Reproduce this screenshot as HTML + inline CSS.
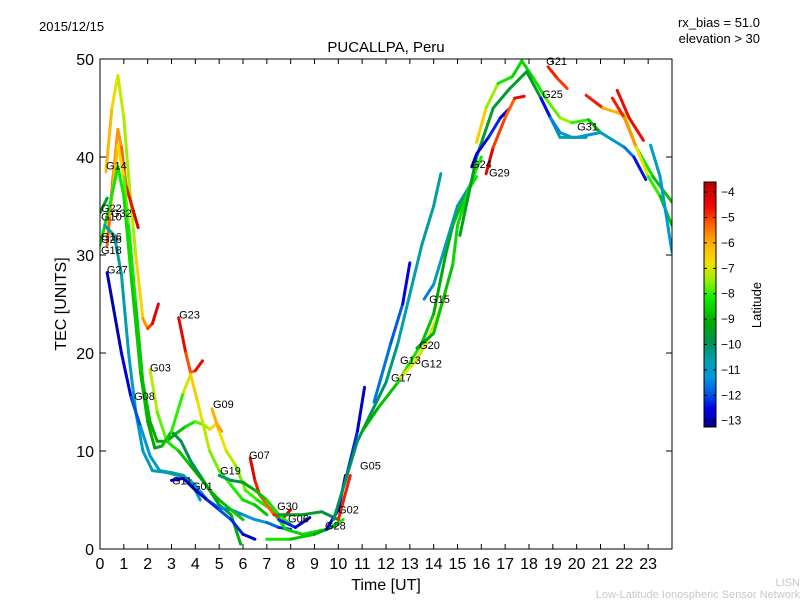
<!DOCTYPE html>
<html><head><meta charset="utf-8"><style>
body{margin:0;background:#fff;}
svg{display:block;font-family:"Liberation Sans","DejaVu Sans",sans-serif;}
</style></head><body>
<svg id="chart" width="800" height="600" viewBox="0 0 800 600">
<defs>
<clipPath id="plotclip"><rect x="100" y="59" width="572" height="490"/></clipPath>
<linearGradient id="jetgrad" x1="0" y1="1" x2="0" y2="0"></linearGradient>
</defs>
<rect width="800" height="600" fill="#fff"/>
<text x="39" y="31" font-size="13">2015/12/15</text>
<text x="760" y="27" font-size="13" text-anchor="end">rx_bias = 51.0</text>
<text x="760" y="43" font-size="13" text-anchor="end">elevation &gt; 30</text>
<text x="386" y="52" font-size="15" text-anchor="middle">PUCALLPA, Peru</text>
<g id="marks" clip-path="url(#plotclip)"></g>
<g id="labels"></g>
<rect x="100" y="59" width="572" height="490" fill="none" stroke="#000" stroke-width="1"/>
<g id="axes"></g>
<text x="386" y="590" font-size="16" text-anchor="middle">Time [UT]</text>
<text x="66" y="304" font-size="16" text-anchor="middle" transform="rotate(-90 66 304)">TEC [UNITS]</text>
<rect x="704" y="182" width="12" height="245" fill="url(#jetgrad)" stroke="#000" stroke-width="1"/>
<g id="cbticks"></g>
<text x="761" y="305" font-size="13" text-anchor="middle" transform="rotate(-90 761 305)">Latitude</text>
<text x="800" y="586" font-size="11" fill="#c8c8c8" text-anchor="end">LISN</text>
<text x="800" y="598" font-size="11" fill="#c8c8c8" text-anchor="end">Low-Latitude Ionospheric Sensor Network</text>
</svg>
<script>
const xTicks=[0,1,2,3,4,5,6,7,8,9,10,11,12,13,14,15,16,17,18,19,20,21,22,23];
const yTicks=[0,10,20,30,40,50];
const cbTicks=[-4,-5,-6,-7,-8,-9,-10,-11,-12,-13];
const trackT=[
[0.25,0.5,0.75,1.0,1.2,1.5,1.8,2.0,2.2,2.45],
[0.3,0.55,0.75,0.9,1.1,1.4,1.6],
[0.4,0.75,1.0,1.2,1.5,1.8,2.1,2.4,2.8,3.2,3.6,4.0,4.4,4.6,4.9,5.1],
[0.0,0.4,0.75,1.0,1.3,1.7,2.0,2.3,2.6,3.0,3.4,3.8,4.2,4.6,5.0,5.5,5.9],
[0.0,0.3],
[0.2,0.6,0.9,1.2,1.5,1.8,2.2,2.8,3.3,3.8,4.2],
[0.3,0.9,1.3,1.7,2.1,2.5,3.0,3.5,4.0,4.5,5.0,5.5,6.0,6.5,7.0,7.5,8.0],
[2.1,2.4,2.8,3.3,3.8,4.3,4.6,5.0,5.5,6.0],
[3.3,3.6,3.8,4.0,4.3],
[2.6,3.0,3.5,3.8,4.1,4.3,4.6,5.0,5.5,6.0,6.5,7.0],
[4.7,5.0,5.3,5.7,6.1,6.6,7.2,7.8,8.5,9.5,10.2],
[6.3,6.5,6.7,7.0,7.3,7.7,8.0],
[5.0,5.5,6.0,6.5,7.0,7.5,8.0],
[3.0,3.5,4.0,4.5,5.0,5.5,6.0,6.5],
[7.5,8.2,8.8],
[7.0,8.0,9.0,9.5,10.0],
[7.5,8.5,9.3,10.0],
[9.5,10.0,10.3],
[10.0,10.5],
[10.3,10.8,11.1],
[9.8,10.3,10.8,11.3,12.0,12.5,13.0,13.5,14.0,14.3],
[11.5,12.2,12.7,13.0],
[11.0,11.7,12.5,13.0,13.5,14.0,14.5,14.8,15.3,15.8],
[12.6,13.2,13.7,14.2,14.5],
[13.6,14.0,14.5,15.0,15.5],
[13.3,14.0,14.8,15.0,15.5,16.0],
[15.8,16.2,16.7,17.3,17.7,18.2,18.7,19.3,19.8,20.5,21.0],
[15.1,15.8,16.5,17.2,17.9,18.5,19.3,20.0,21.0,22.0,22.4,22.9],
[18.8,19.2,19.6],
[18.5,18.9,19.3,19.8,20.4],
[20.4,21.1,22.0,22.5,23.2,24.0],
[21.7,22.2,22.8],
[21.5,22.0,22.5,23.0,23.5,24.0],
[23.1,23.5,24.0],
[15.6,15.8,16.3,16.8,17.2],
[16.2,16.5,17.0,17.4,17.8]
];
const trackV=[
[38.5,45,48.3,44,38,30,23.5,22.5,23,25],
[31,38,42.8,41,37,34.5,32.8],
[34,41.2,38,33,25,17,13,11,11,11.8,12.5,13,12.6,12.2,12.8,12],
[31,35,39,36,28,18,13,10.3,10.5,12,11,9,7.5,6,4.5,3.5,0.5],
[34.3,35.8],
[33,32,28,20,14,10,8,7.8,7.5,7,5],
[28.2,20,15.5,12.5,9.5,8,7.8,7.5,6.5,5,4.2,4,3.5,3,2.7,2.2,2],
[18.3,14,11,10,8.5,7,6,5,4,3],
[23.6,20,18,18.2,19.2],
[10.5,12,16,17.8,15,13,10,8,6.5,5,4.5,3.5],
[14.3,12,10,8.5,6,5,4,2,1.5,2,3],
[9.3,7,5.5,4.5,3.5,3.2,4],
[7.5,7,6.8,6,5,3.5,2.5],
[7,7.2,6,5,4,3,1.5,1],
[3,2.2,3.2],
[1,1,1.5,2,2.5],
[3.5,3.5,3.8,3],
[2,4,7.5],
[3,7.5],
[7,12,16.5],
[3,7,11,13.5,17,21,26,31,35,38.3],
[15,21,25,29.2],
[12,14.5,17,19,21,24,30,33,36,38],
[17.5,19,21,24,26],
[25.5,27,31,35,37],
[20.5,22,29,33,37,40],
[41.5,45,47.5,48.2,49.8,48,46,44,43.5,43.8,42.5],
[32,40,45,47,48.7,46,42,42,42.5,41,40,37.7],
[49.2,48,47],
[46,44,42.5,42,42],
[46.3,45,44.3,41,38,35.4],
[46.8,44,41.7],
[46,44,41,38,36,33],
[41.2,38,30.3],
[39,40.3,42,44,45],
[38.3,41,44,46,46.2]
];
const trackL=[
[-6,-6.3,-7,-7.3,-7.5,-7.2,-6,-5.5,-4.5,-4],
[-5,-5.5,-6,-5.5,-5,-4.3,-4],
[-6.5,-6,-7.5,-8,-8.5,-8.8,-9,-9,-9.2,-9,-8.5,-8,-7.5,-7,-6.5,-5],
[-8.5,-8.3,-8.2,-8.3,-8.5,-8.8,-9,-9.3,-9.3,-9.5,-9.8,-10,-10,-9.5,-9.5,-9,-9],
[-9.5,-9.5],
[-10.5,-10.5,-10.5,-10.8,-11,-11,-10.8,-10.5,-10.3,-10.5,-10.8],
[-13,-12.8,-12.5,-11.5,-11,-10.8,-10.5,-10.5,-11,-11.5,-11.5,-11.5,-11.5,-11,-11.5,-12,-12.5],
[-7,-7.5,-8,-8.5,-9,-9.2,-9,-9,-8.8,-8.5],
[-4,-4.8,-5.5,-5,-4],
[-9,-8.5,-7.5,-6.5,-6.5,-7,-7.5,-7.8,-8,-8.2,-8.5,-9],
[-5.5,-6.5,-7,-7.5,-7.8,-8,-8.3,-8.5,-8.5,-8.3,-8],
[-4,-4.5,-5,-5.5,-5,-4.5,-4],
[-10.2,-10,-9.5,-9,-8.5,-8,-8.2],
[-12.5,-12.5,-12.8,-12.5,-12,-12,-12.5,-13],
[-12,-12.5,-13],
[-8,-8.5,-9,-9.5,-9.5],
[-9.5,-9.5,-9.5,-10],
[-12.5,-12.8,-13],
[-5,-4.5],
[-12,-12.5,-13],
[-10,-10,-10,-10,-10,-10.5,-10.8,-10.5,-10.5,-10.5],
[-11.5,-11.8,-12,-13],
[-9,-9,-8.5,-8,-8.5,-9,-9.2,-9,-8.5,-8],
[-7,-6.8,-7,-7,-6.5],
[-12,-11,-10.5,-10.5,-10.5],
[-9.5,-9,-8.5,-8.5,-8.3,-8],
[-6,-7,-8,-8.5,-8.5,-8.5,-8,-7.5,-7.5,-8.5,-9],
[-9.5,-9.3,-9.5,-9.8,-9,-10,-10.8,-11,-11,-11.2,-12,-12.8],
[-4,-5.5,-4.5],
[-12.8,-12,-11,-11,-10.5],
[-4,-5.5,-6.5,-8,-8.5,-9],
[-4.2,-5,-4.2],
[-4,-5.5,-6,-7.5,-8.5,-9],
[-10.8,-11,-11.2],
[-12.5,-13,-12,-12.5,-13],
[-4,-4.5,-5.5,-5,-4]
];
const satNames=["G14","G22","G32","G10","G16","G26","G18","G27","G08","G03","G23","G09","G07","G19","G11","G01","G30","G06","G28","G02","G05","G17","G13","G12","G20","G15","G24","G29","G25","G21","G31"];
const satT=[0.25,0.04,0.46,0.04,0.04,0.04,0.04,0.29,1.43,2.1,3.32,4.74,6.25,5.04,3.02,3.86,7.43,7.89,9.44,9.99,10.91,12.21,12.59,13.47,13.39,13.81,15.57,16.32,18.55,18.72,20.02];
const satV=[38.7,34.4,33.9,33.5,31.5,31.2,30.1,28.1,15.2,18.1,23.5,14.4,9.2,7.6,6.6,6.0,4.0,2.7,2.0,3.6,8.1,17.1,18.9,18.5,20.4,25.1,38.9,38.0,46.0,49.4,42.7];

const X0=100,X1=672,Y0=549,Y1=59;
function xs(t){return X0+t/24*(X1-X0);}
function ys(v){return Y0-v/50*(Y0-Y1);}
const LMIN=-13.25,LMAX=-3.6;
function cby(l){return 427-(l-LMIN)/(LMAX-LMIN)*245;}
const cmapStops=[[-13.25,[0,0,140]],[-12.5,[0,0,235]],[-12,[0,80,230]],[-11.3,[0,150,225]],[-10.6,[0,160,170]],[-9.9,[0,145,80]],[-9.1,[0,170,0]],[-8.1,[20,240,0]],[-7.5,[150,240,0]],[-6.8,[240,225,0]],[-6,[255,175,0]],[-5.3,[255,100,0]],[-4.6,[240,10,0]],[-3.6,[180,0,0]]];
function jet(l){
  l=Math.max(LMIN,Math.min(LMAX,l));
  for(let i=0;i<cmapStops.length-1;i++){
    const a=cmapStops[i],b=cmapStops[i+1];
    if(l<=b[0]){const f=(l-a[0])/(b[0]-a[0]);
      return 'rgb('+a[1].map((c,j)=>Math.round(c+(b[1][j]-c)*f)).join(',')+')';}
  }
  return 'rgb(180,0,0)';
}
const NS="http://www.w3.org/2000/svg";
const grad=document.getElementById('jetgrad');
for(const s of cmapStops){
  const st=document.createElementNS(NS,'stop');
  st.setAttribute('offset',(s[0]-LMIN)/(LMAX-LMIN));
  st.setAttribute('stop-color','rgb('+s[1].join(',')+')');
  grad.appendChild(st);
}
const marks=document.getElementById('marks');
for(let k=0;k<trackT.length;k++){
  const g=document.createElementNS(NS,'g');
  
  
  for(let i=0;i<trackT[k].length-1;i++){
    const ln=document.createElementNS(NS,'line');
    ln.setAttribute('x1',xs(trackT[k][i]));ln.setAttribute('y1',ys(trackV[k][i]));
    ln.setAttribute('x2',xs(trackT[k][i+1]));ln.setAttribute('y2',ys(trackV[k][i+1]));
    ln.setAttribute('stroke',jet((trackL[k][i]+trackL[k][i+1])/2));
    ln.setAttribute('stroke-width','3');ln.setAttribute('stroke-linecap','round');
    
    
    g.appendChild(ln);
  }
  marks.appendChild(g);
}
const labels=document.getElementById('labels');
for(let i=0;i<satNames.length;i++){
  const t=document.createElementNS(NS,'text');
  t.setAttribute('x',xs(satT[i]));t.setAttribute('y',ys(satV[i]));
  t.setAttribute('font-size','11');t.textContent=satNames[i];
  
  
  labels.appendChild(t);
}
const axes=document.getElementById('axes');
function add(parent,tag,attrs,txt){const e=document.createElementNS(NS,tag);for(const a in attrs)e.setAttribute(a,attrs[a]);if(txt!==undefined)e.textContent=txt;parent.appendChild(e);return e;}
for(const t of xTicks){
  const x=xs(t);
  const tk=add(axes,'path',{d:`M${x},${Y0}v-5M${x},${Y1}v5`,stroke:'#000','stroke-width':1});
  
  
  const lb=add(axes,'text',{x:x,y:569,'font-size':16,'text-anchor':'middle'},String(t));
  
  
}
for(const v of yTicks){
  const y=ys(v);
  const tk=add(axes,'path',{d:`M${X0},${y}h6M${X1},${y}h-6`,stroke:'#000','stroke-width':1});
  
  
  const lb=add(axes,'text',{x:94,y:y+6,'font-size':16,'text-anchor':'end'},String(v));
  
  
}
const cbg=document.getElementById('cbticks');
for(const l of cbTicks){
  const y=cby(l);
  const tk=add(cbg,'path',{d:`M704,${y}h3M716,${y}h-3`,stroke:'#000','stroke-width':1});
  
  
  const lb=add(cbg,'text',{x:721,y:y+4,'font-size':12},'\u2212'+Math.abs(l));
  
  
}
</script>
</body></html>
